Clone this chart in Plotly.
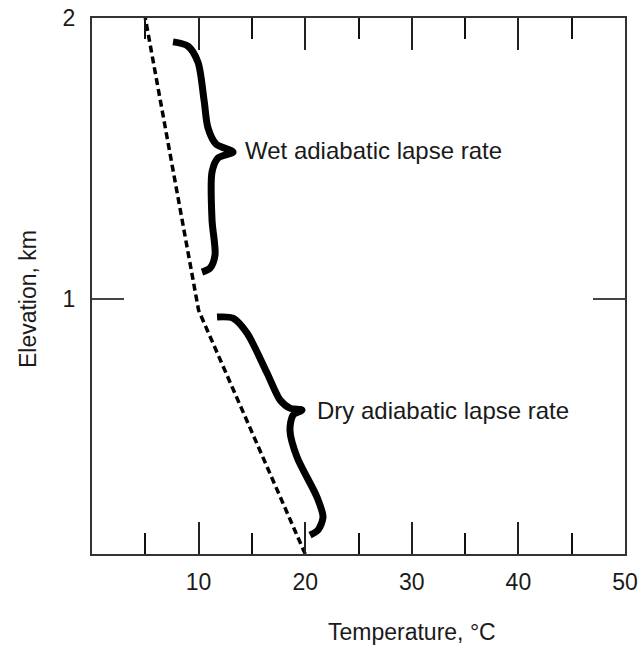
import plotly.graph_objects as go

# temperature profile (dashed line)
temp_c = [20, 10, 5]
elev_km = [0.093, 0.96, 2.0]

# brace outlines (temperature, elevation)
wet_x = [7.6, 9.0, 9.94, 10.51, 10.88, 11.63, 13.23, 11.82, 11.26, 11.26, 11.54, 11.07, 10.32]
wet_y = [1.915, 1.90, 1.843, 1.708, 1.609, 1.552, 1.523, 1.502, 1.452, 1.281, 1.157, 1.110, 1.096]
dry_x = [11.73, 13.23, 14.54, 16.42, 17.64, 18.57, 19.7, 18.86, 18.57, 19.23, 21.11, 21.67, 21.2, 20.45]
dry_y = [0.936, 0.932, 0.879, 0.737, 0.641, 0.612, 0.605, 0.587, 0.534, 0.438, 0.295, 0.224, 0.178, 0.160]

labels = ["Wet adiabatic lapse rate", "Dry adiabatic lapse rate"]
label_x = [14.2, 20.9]
label_y = [1.53, 0.605]

x_ticks = [10, 20, 30, 40, 50]
y_ticks = [1, 2]

font = "Liberation Sans, Arial, sans-serif"

fig = go.Figure()
fig.add_trace(go.Scatter(
    x=temp_c, y=elev_km, mode='lines',
    line=dict(color='black', width=3.5, dash='7px,4px'),
    showlegend=False, hoverinfo='skip'
))
for bx, by in [(wet_x, wet_y), (dry_x, dry_y)]:
    fig.add_trace(go.Scatter(
        x=bx, y=by, mode='lines',
        line=dict(color='black', width=7, shape='spline', smoothing=0.8),
        showlegend=False, hoverinfo='skip'
    ))

for txt, tx, ty in zip(labels, label_x, label_y):
    fig.add_annotation(x=tx, y=ty, text=txt, showarrow=False,
                       xanchor='left', yanchor='middle',
                       font=dict(size=24, color='#1a1a1a', family=font))

fig.add_annotation(x=30, y=0, xref='x', yref='paper', text="Temperature, °C",
                   showarrow=False, xanchor='center', yanchor='middle', yshift=-78,
                   font=dict(size=23, color='#1a1a1a', family=font))
fig.add_annotation(x=0, y=1, xref='paper', yref='y', text="Elevation, km",
                   showarrow=False, textangle=-90, xanchor='center', yanchor='middle',
                   xshift=-64, font=dict(size=23, color='#1a1a1a', family=font))

fig.update_xaxes(
    range=[0, 50], tickvals=x_ticks, ticks='inside', ticklen=32, tickwidth=1.5,
    tickcolor='#222', showline=True, linecolor='#333', linewidth=2, mirror='ticks',
    showgrid=False, zeroline=False, ticklabelstandoff=6, automargin=False,
    tickfont=dict(size=23, color='#1a1a1a', family=font),
    minor=dict(dtick=5, tick0=0, ticks='inside', ticklen=21, tickwidth=2, tickcolor='#111')
)
fig.update_yaxes(
    range=[0.093, 2], tickvals=y_ticks, ticks='inside', ticklen=32, tickwidth=1.5,
    tickcolor='#444', showline=True, linecolor='#333', linewidth=2, mirror='ticks',
    showgrid=False, zeroline=False, ticklabelstandoff=10, automargin=False,
    tickfont=dict(size=23, color='#1a1a1a', family=font)
)

fig.update_layout(
    width=641, height=648,
    margin=dict(l=92, r=16, t=18, b=94),
    plot_bgcolor='white', paper_bgcolor='white',
    showlegend=False
)

# drop the browser's default body margin so the figure sits at the page corner
fig.write_html("out.html", config={'displayModeBar': False},
               post_script="document.body.style.margin='0px';")
